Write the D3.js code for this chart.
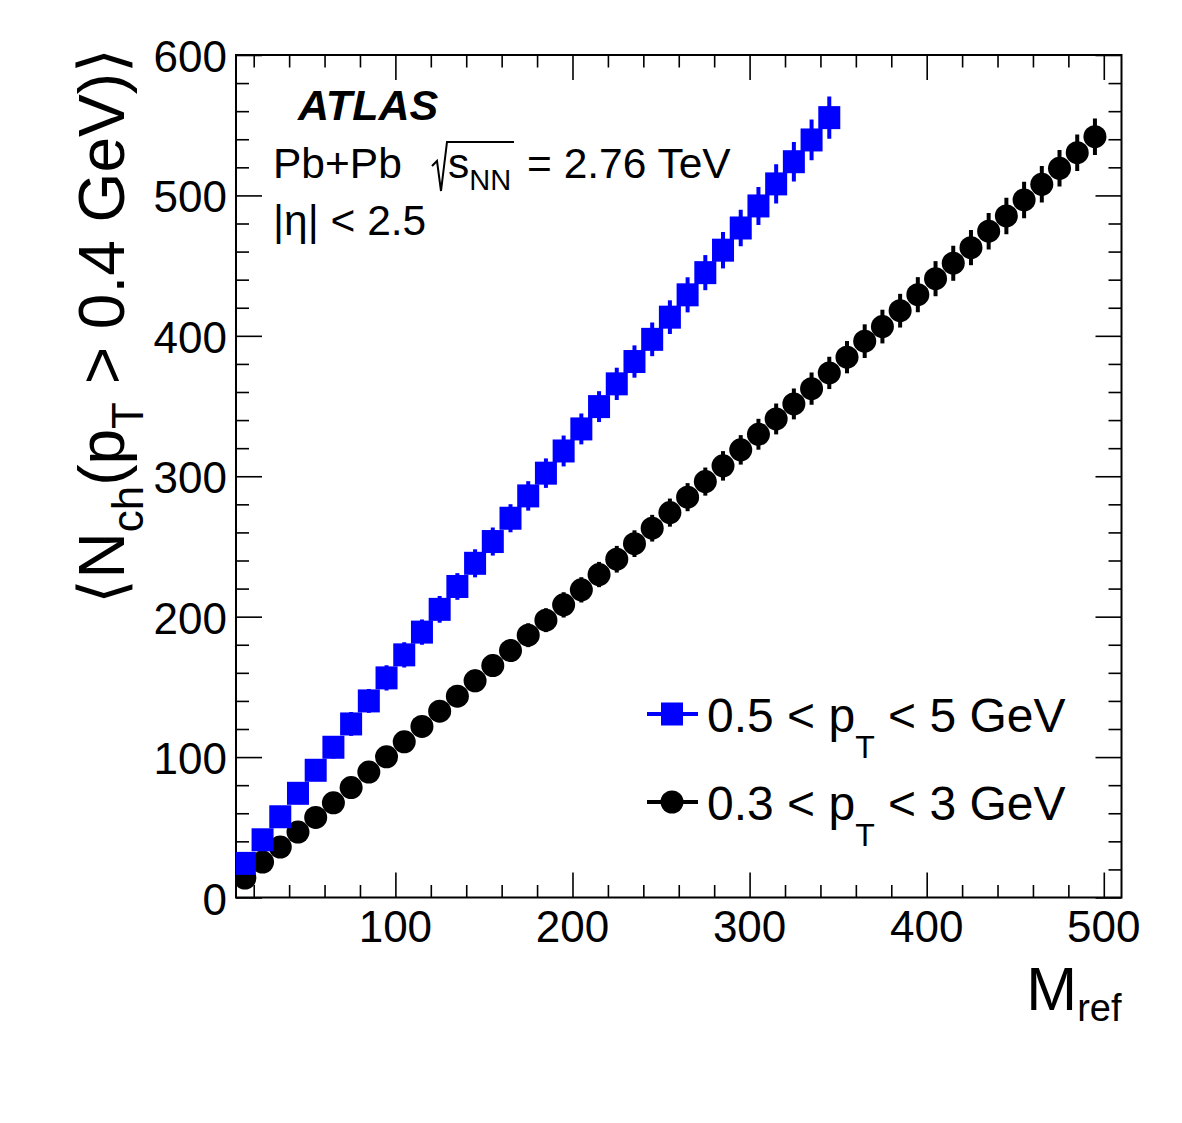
<!DOCTYPE html>
<html>
<head>
<meta charset="utf-8">
<script src="https://cdn.jsdelivr.net/npm/d3@7"></script>
<style>
  html, body { margin: 0; padding: 0; background: #fff; }
  svg text { font-family: "Liberation Sans", Arial, Helvetica, sans-serif; fill: #000; }
</style>
</head>
<body>
<div id="chart"></div>
<script>
// ---- data ----
const mrefBlue = [15, 25, 35, 45, 55, 65, 75, 85, 95, 105, 115, 125, 135, 145, 155, 165, 175,
  185, 195, 205, 215, 225, 235, 245, 255, 265, 275, 285, 295, 305, 315, 325, 335, 345];
const nchBlue = [24.3, 41.1, 57.5, 74.2, 90.6, 107, 123.6, 140, 156.4, 172.8, 189, 205.2, 221.5, 238,
  253.5, 270.1, 286, 302.2, 318, 333.7, 349.6, 365.8, 381.7, 397.5, 413.3, 429.2, 445, 461,
  476.8, 492.5, 508.2, 524, 539.5, 555.4];
const errBlue = [5, 6, 6.5, 7, 7.5, 8, 8.5, 8.5, 9, 9, 9, 9.5, 9.5, 10, 10, 10, 10.5, 10.5,
  11, 11, 11, 11.5, 11.5, 12, 12, 12.5, 12.5, 13, 13, 13.5, 14, 14, 14.5, 15];

const mrefBlack = [15, 25, 35, 45, 55, 65, 75, 85, 95, 105, 115, 125, 135, 145, 155, 165, 175,
  185, 195, 205, 215, 225, 235, 245, 255, 265, 275, 285, 295, 305, 315, 325, 335, 345, 355,
  365, 375, 385, 395, 405, 415, 425, 435, 445, 455, 465, 475, 485, 495];
const nchBlack = [13.8, 25.2, 35.9, 46.6, 57, 67.4, 78.3, 89.3, 100.2, 110.9, 121.8, 132.7, 143.4,
  154.3, 165.2, 175.9, 186.8, 197.5, 208.4, 219.1, 230, 240.9, 252, 263, 274.1, 285.1, 296.2,
  307.4, 318.8, 329.9, 340.8, 351.5, 362.4, 373.6, 384.8, 396.2, 406.6, 417.9, 429.3, 440.7,
  451.7, 462.8, 474.5, 485.4, 496.8, 507.9, 519.3, 530.4, 541.8];
const errBlack = [3, 3.5, 4, 4.5, 5, 5.5, 6, 6, 6.5, 7, 7, 7.5, 7.5, 8, 8, 8, 8.5, 8.5, 9, 9, 9,
  9.5, 9.5, 9.5, 10, 10, 10, 10.5, 10.5, 11, 11, 11, 11.5, 11.5, 11.5, 12, 12, 12, 12.5, 12.5,
  12.5, 12.5, 13, 13, 13, 13, 13, 13, 13];

const xDomain = [10, 510];
const yDomain = [0, 600];
const xMajor = [100, 200, 300, 400, 500];
const yMajor = [0, 100, 200, 300, 400, 500, 600];
const xMinor = [20, 40, 60, 80, 120, 140, 160, 180, 220, 240, 260, 280, 320, 340, 360, 380,
  420, 440, 460, 480];
const yMinor = [20, 40, 60, 80, 120, 140, 160, 180, 220, 240, 260, 280, 320, 340, 360, 380,
  420, 440, 460, 480, 520, 540, 560, 580];

const BLUE = '#0000ff';

// ---- layout ----
const W = 1182, H = 1123;
const L = 236, R = 1121.5, T = 55, B = 897.5;

const svg = d3.select('#chart').append('svg').attr('width', W).attr('height', H);

const x = d3.scaleLinear().domain(xDomain).range([L, R]);
const y = d3.scaleLinear().domain(yDomain).range([B, T]);

// ticks on all four sides (ROOT style, pointing inwards)
function tickAxis(axisFn, scale, vals, size, tr) {
  const g = svg.append('g').attr('transform', tr)
    .call(axisFn(scale).tickValues(vals).tickSize(-size).tickFormat(''));
  g.select('.domain').remove();
  g.selectAll('line').attr('stroke', '#000').attr('stroke-width', 1.6);
}
tickAxis(d3.axisBottom, x, xMajor, 25, `translate(0,${B})`);
tickAxis(d3.axisBottom, x, xMinor, 12.5, `translate(0,${B})`);
tickAxis(d3.axisTop, x, xMajor, 25, `translate(0,${T})`);
tickAxis(d3.axisTop, x, xMinor, 12.5, `translate(0,${T})`);
tickAxis(d3.axisLeft, y, yMajor, 26, `translate(${L},0)`);
tickAxis(d3.axisLeft, y, yMinor, 13, `translate(${L},0)`);
tickAxis(d3.axisRight, y, yMajor, 26, `translate(${R},0)`);
tickAxis(d3.axisRight, y, yMinor, 13, `translate(${R},0)`);

// frame
svg.append('rect').attr('x', L).attr('y', T).attr('width', R - L).attr('height', B - T)
  .attr('fill', 'none').attr('stroke', '#000').attr('stroke-width', 2);

// tick labels
svg.append('g').selectAll('text').data(xMajor).join('text')
  .attr('x', d => x(d)).attr('y', B + 44.5)
  .attr('text-anchor', 'middle').style('font-size', '44px')
  .text(d => d);
svg.append('g').selectAll('text').data(yMajor).join('text')
  .attr('x', L - 9).attr('y', d => y(d) + 17)
  .attr('text-anchor', 'end').style('font-size', '44px')
  .text(d => d);

// axis titles
const xt = svg.append('text').attr('x', R).attr('y', 1010).attr('text-anchor', 'end')
  .style('font-size', '61px');
xt.append('tspan').text('M');
xt.append('tspan').attr('dy', 11).style('font-size', '38px').text('ref');

const yt = svg.append('text').attr('transform', 'translate(124,48) rotate(-90)')
  .attr('text-anchor', 'end').style('font-size', '64px');
yt.append('tspan').text('\u27E8N');
yt.append('tspan').attr('dy', 19).style('font-size', '44px').text('ch');
yt.append('tspan').attr('dy', -19).text('(p');
yt.append('tspan').attr('dy', 19).style('font-size', '44px').text('T');
yt.append('tspan').attr('dy', -19).text(' > 0.4 GeV)\u27E9');

// data
svg.append('clipPath').attr('id', 'plotclip').append('rect')
  .attr('x', L).attr('y', T).attr('width', R - L).attr('height', B - T);
const plot = svg.append('g').attr('clip-path', 'url(#plotclip)');

const black = mrefBlack.map((m, i) => ({ m, v: nchBlack[i], e: errBlack[i] }));
const blue = mrefBlue.map((m, i) => ({ m, v: nchBlue[i], e: errBlue[i] }));

plot.append('g').selectAll('line').data(black).join('line')
  .attr('x1', d => x(d.m)).attr('x2', d => x(d.m))
  .attr('y1', d => y(d.v - d.e)).attr('y2', d => y(d.v + d.e))
  .attr('stroke', '#000').attr('stroke-width', 4);
plot.append('g').selectAll('circle').data(black).join('circle')
  .attr('cx', d => x(d.m)).attr('cy', d => y(d.v)).attr('r', 11.5)
  .attr('fill', '#000');

plot.append('g').selectAll('line').data(blue).join('line')
  .attr('x1', d => x(d.m)).attr('x2', d => x(d.m))
  .attr('y1', d => y(d.v - d.e)).attr('y2', d => y(d.v + d.e))
  .attr('stroke', BLUE).attr('stroke-width', 4);
plot.append('g').selectAll('rect').data(blue).join('rect')
  .attr('x', d => x(d.m) - 11).attr('y', d => y(d.v) - 11.5)
  .attr('width', 22).attr('height', 23)
  .attr('fill', BLUE);

// ATLAS label block
svg.append('text').attr('x', 298).attr('y', 120)
  .style('font-size', '43px').style('font-weight', 'bold').style('font-style', 'italic')
  .text('ATLAS');
svg.append('text').attr('x', 273).attr('y', 178).style('font-size', '42.5px').text('Pb+Pb');
svg.append('path').attr('d', 'M432,166 L437,161 L441,191 L447,142 L514,142')
  .attr('fill', 'none').attr('stroke', '#000').attr('stroke-width', 2);
const sq = svg.append('text').attr('x', 448).attr('y', 178).style('font-size', '42.5px');
sq.append('tspan').text('s');
sq.append('tspan').attr('dy', 12).style('font-size', '29px').text('NN');
svg.append('text').attr('x', 527).attr('y', 178).style('font-size', '42.5px').text('= 2.76 TeV');
svg.append('text').attr('x', 273).attr('y', 235).style('font-size', '42.5px').text('|\u03B7| < 2.5');

// legend
const legend = [
  { label: '0.5 < p', tail: ' < 5 GeV', color: BLUE, shape: 'square', yc: 714 },
  { label: '0.3 < p', tail: ' < 3 GeV', color: '#000', shape: 'circle', yc: 802 }
];
legend.forEach(l => {
  const g = svg.append('g');
  g.append('line').attr('x1', 647).attr('x2', 698).attr('y1', l.yc).attr('y2', l.yc)
    .attr('stroke', l.color).attr('stroke-width', 4);
  if (l.shape === 'square') {
    g.append('rect').attr('x', 661).attr('y', l.yc - 11.5).attr('width', 22).attr('height', 23)
      .attr('fill', l.color);
  } else {
    g.append('circle').attr('cx', 672).attr('cy', l.yc).attr('r', 11.5).attr('fill', l.color);
  }
  const t = g.append('text').attr('x', 707).attr('y', l.yc + 17.5).style('font-size', '48px');
  t.append('tspan').text(l.label);
  t.append('tspan').attr('dy', 26).style('font-size', '32px').text('T');
  t.append('tspan').attr('dy', -26).text(l.tail);
});
</script>
</body>
</html>
